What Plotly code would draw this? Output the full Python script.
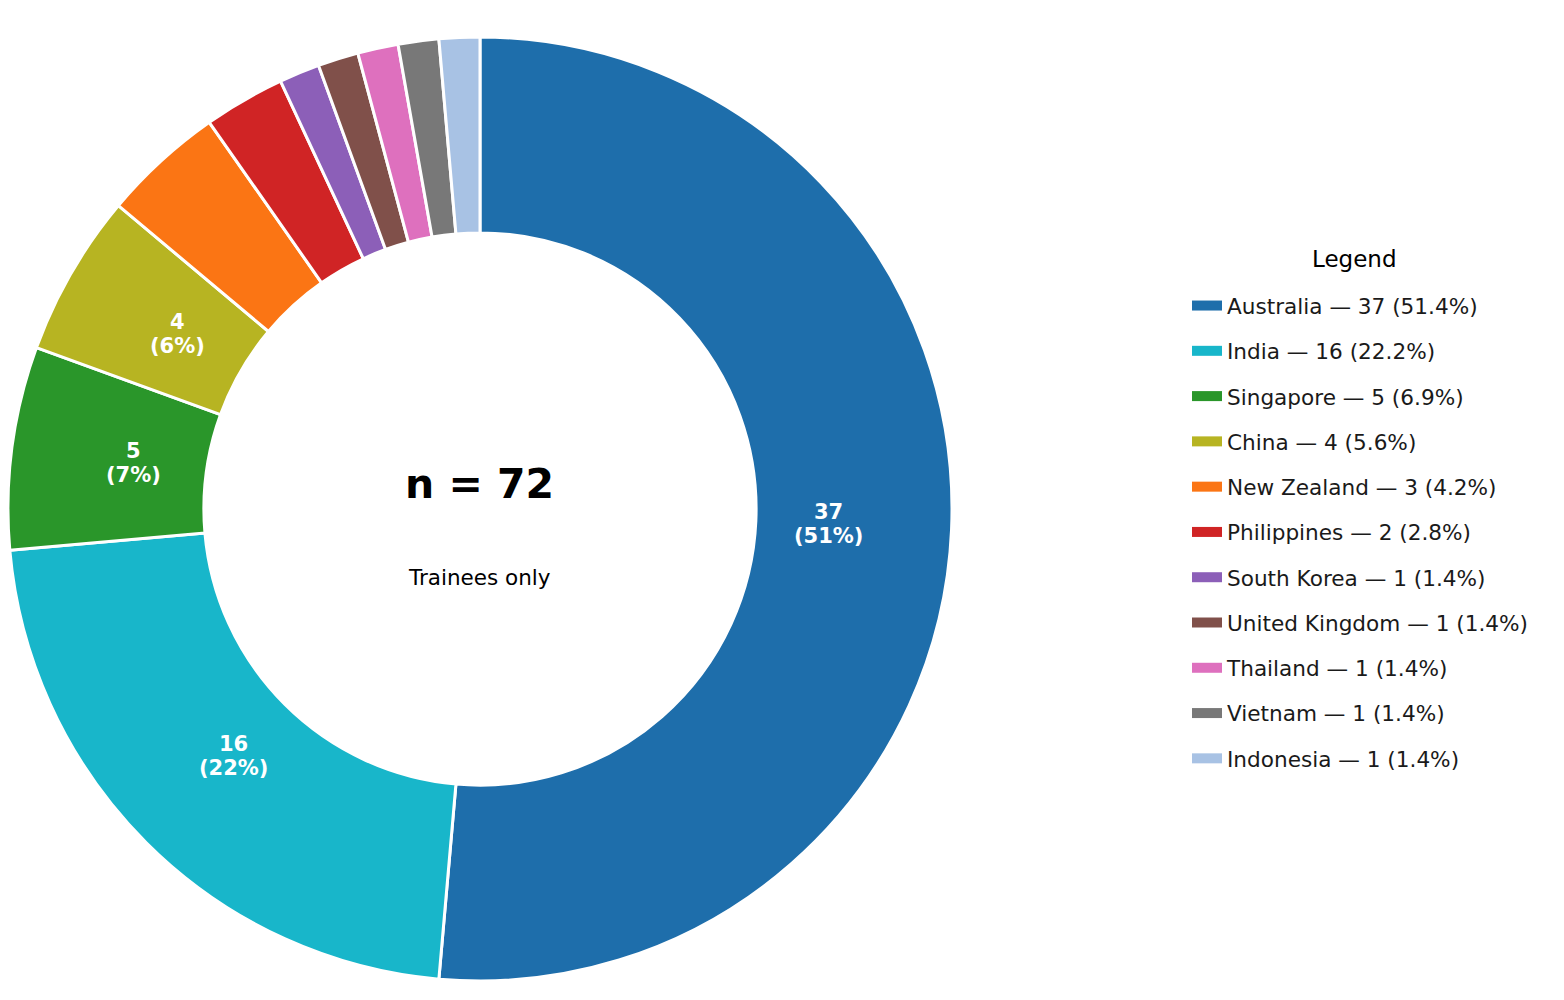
import math
import plotly.graph_objects as go

countries = ["Australia", "India", "Singapore", "China", "New Zealand", "Philippines",
             "South Korea", "United Kingdom", "Thailand", "Vietnam", "Indonesia"]
counts = [37, 16, 5, 4, 3, 2, 1, 1, 1, 1, 1]
colors = ["#1e6eab", "#18b6ca", "#2a962a", "#b7b422", "#fb7514", "#d02425",
          "#8c5fb8", "#80504a", "#de70be", "#787878", "#a8c2e4"]
label_min = 4  # slices with at least this count get an inside label
center_title = "n = 72"
center_sub = "Trainees only"
legend_title = "Legend"

total = sum(counts)
pct = [c / total * 100 for c in counts]
legend_labels = [f"{n} \u2014 {c} ({p:.1f}%)" for n, c, p in zip(countries, counts, pct)]

FONT = "DejaVu Sans"
W, H = 1564, 1000
OFF = 8                      # page body margin
R = 472                      # outer radius in px
cx, cy = R, 509 - OFF        # pie centre in figure px (from top-left)
HOLE = 0.585
LABEL_R = 0.74               # label distance as fraction of outer radius
LINE_GAP = 12                # half the distance between the two label lines


def px(xp):
    return xp / W


def py(yp):
    return (H - yp) / H


fig = go.Figure()
fig.add_trace(go.Pie(
    labels=countries, values=counts, textinfo="none",
    marker=dict(colors=colors, line=dict(color="white", width=3)),
    hole=HOLE, sort=False, direction="clockwise", rotation=0,
    domain=dict(x=[px(cx - R), px(cx + R)], y=[py(cy + R), py(cy - R)]),
    showlegend=False, hoverinfo="label+value+percent",
))

# inside value labels, positioned from the cumulative data angles
cum = 0
for c, p in zip(counts, pct):
    mid = (cum + c / 2) / total
    cum += c
    if c < label_min:
        continue
    ang = math.pi / 2 - 2 * math.pi * mid
    lx = cx + LABEL_R * R * math.cos(ang)
    ly = cy - LABEL_R * R * math.sin(ang)
    for txt, dy in ((f"<b>{c}</b>", -LINE_GAP), (f"<b>({p:.0f}%)</b>", LINE_GAP)):
        fig.add_annotation(x=px(lx), y=py(ly + dy), xref="paper", yref="paper",
                           xanchor="center", yanchor="middle", showarrow=False,
                           text=txt, font=dict(family=FONT, size=21, color="white"))

for i, (lab, col) in enumerate(zip(legend_labels, colors)):
    fig.add_trace(go.Scatter(
        x=[None], y=[None], mode="lines", line=dict(color=col, width=10),
        name=lab, legendgroup=f"g{i}", showlegend=True, hoverinfo="skip",
    ))

fig.add_annotation(x=px(cx), y=py(484 - OFF), xref="paper", yref="paper",
                   xanchor="center", yanchor="middle",
                   text=f"<b>{center_title}</b>", showarrow=False,
                   font=dict(family=FONT, size=41, color="black"))
fig.add_annotation(x=px(cx), y=py(577 - OFF), xref="paper", yref="paper",
                   xanchor="center", yanchor="middle",
                   text=center_sub, showarrow=False,
                   font=dict(family=FONT, size=21.5, color="black"))
fig.add_annotation(x=px(1354 - OFF), y=py(259 - OFF), xref="paper", yref="paper",
                   xanchor="center", yanchor="middle",
                   text=legend_title, showarrow=False,
                   font=dict(family=FONT, size=23, color="black"))

fig.update_layout(
    width=W, height=H, margin=dict(l=0, r=0, t=0, b=0),
    paper_bgcolor="white", plot_bgcolor="white",
    xaxis=dict(visible=False), yaxis=dict(visible=False),
    font=dict(family=FONT, color="#1a1a1a"),
    legend=dict(
        x=px(1187 - OFF), y=py(285 - OFF), xanchor="left", yanchor="top",
        font=dict(family=FONT, size=21.6, color="#1a1a1a"),
        tracegroupgap=14.2, bgcolor="rgba(0,0,0,0)",
    ),
)

fig.write_html("out.html")
